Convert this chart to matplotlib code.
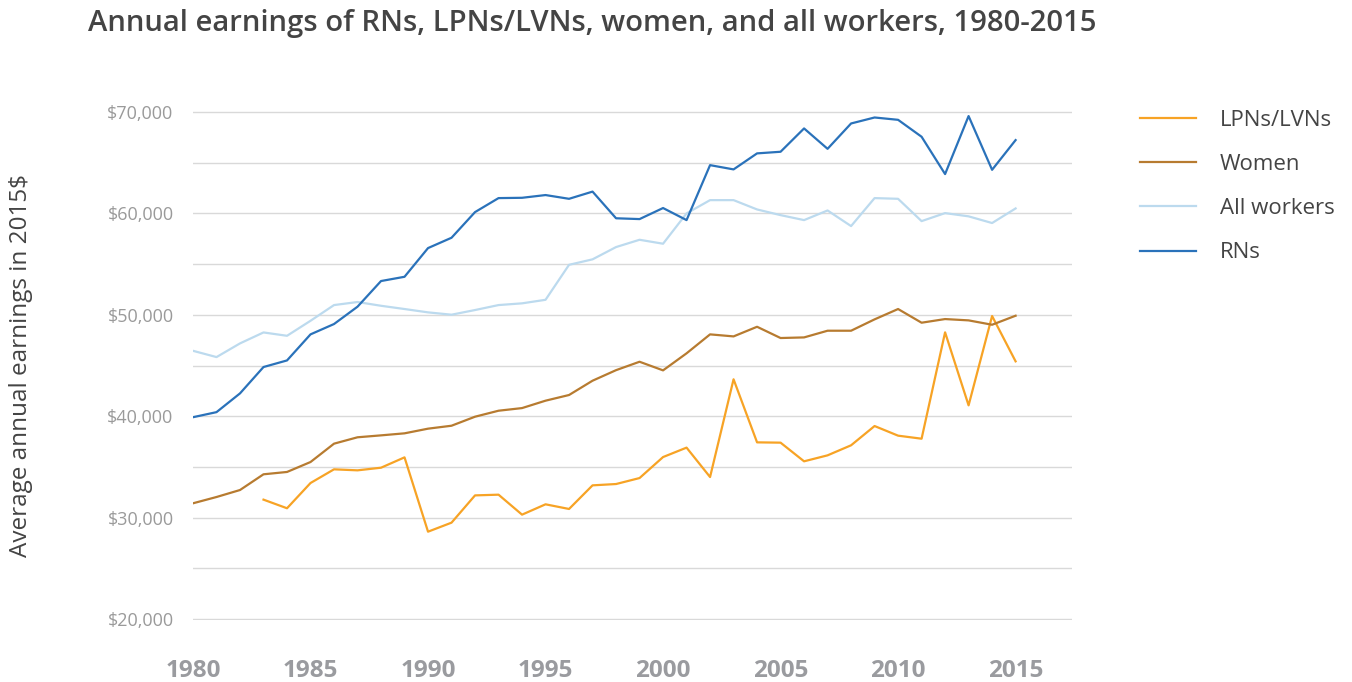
import matplotlib
matplotlib.use("Agg")
import matplotlib.pyplot as plt
from matplotlib.ticker import FuncFormatter, MultipleLocator

plt.rcParams['font.family'] = ['Open Sans', 'DejaVu Sans']

years = list(range(1980, 2016))
years_lpn = list(range(1983, 2016))

rns = [39900, 40400, 42250, 44850, 45500, 48070, 49090, 50800, 53330, 53750,
       56580, 57600, 60130, 61510, 61540, 61810, 61440, 62150, 59520, 59440,
       60530, 59340, 64760, 64340, 65920, 66080, 68380, 66370, 68870, 69460,
       69230, 67560, 63880, 69600, 64300, 67230]

all_workers = [46450, 45830, 47180, 48260, 47930, 49410, 50960, 51260, 50890, 50570,
               50240, 50010, 50470, 50960, 51130, 51480, 54930, 55470, 56680, 57400,
               57010, 60000, 61310, 61310, 60390, 59830, 59340, 60290, 58750, 61510,
               61440, 59240, 60030, 59710, 59050, 60490]

women = [31410, 32030, 32720, 34270, 34500, 35480, 37290, 37920, 38110, 38310,
         38770, 39060, 39950, 40540, 40800, 41530, 42090, 43500, 44540, 45370,
         44520, 46200, 48070, 47870, 48820, 47710, 47770, 48430, 48430, 49550,
         50570, 49220, 49580, 49450, 49020, 49910]

lpns = [31770, 30920, 33410, 34760, 34660, 34920, 35940, 28610, 29500, 32190,
        32260, 30290, 31310, 30850, 33180, 33310, 33900, 35970, 36900, 34000,
        43640, 37420, 37390, 35550, 36140, 37130, 39030, 38080, 37780, 48270,
        41070, 49880, 45410]

colors = {"lpn": "#F7A325", "women": "#B77B30", "all": "#BCDAEE", "rn": "#2A72BA"}

fig = plt.figure(figsize=(13.52, 6.82), dpi=100)
ax = fig.add_axes([193 / 1352, 62 / 682, (1072 - 193) / 1352, (620 - 111) / 682])

ax.plot(years_lpn, lpns, color=colors["lpn"], lw=1.6, label="LPNs/LVNs")
ax.plot(years, women, color=colors["women"], lw=1.6, label="Women")
ax.plot(years, all_workers, color=colors["all"], lw=1.6, label="All workers")
ax.plot(years, rns, color=colors["rn"], lw=1.6, label="RNs")

ax.set_xlim(1980, 2017.4)
ax.set_ylim(19900, 70100)
ax.xaxis.set_major_locator(MultipleLocator(5))
ax.yaxis.set_major_locator(MultipleLocator(10000))
ax.yaxis.set_minor_locator(MultipleLocator(5000))
ax.yaxis.set_major_formatter(FuncFormatter(lambda v, p: f"${v:,.0f}"))
ax.grid(axis="y", which="both", color="#d9d9d9", lw=1)
ax.set_axisbelow(True)
for s in ax.spines.values():
    s.set_visible(False)
ax.tick_params(axis="both", which="both", length=0)
ax.tick_params(axis="y", pad=14, labelsize=13, labelcolor="#9a9a9a")
ax.tick_params(axis="x", pad=28, labelsize=17.5, labelcolor="#9a9b9f")
for t in ax.get_xticklabels():
    t.set_fontweight("bold")

ax.set_ylabel("Average annual earnings in 2015$", fontsize=17.5, color="#444444")
ax.yaxis.set_label_coords(-160 / 879, 0.5)

fig.text(88 / 1352, 1 - 23 / 682, "Annual earnings of RNs, LPNs/LVNs, women, and all workers, 1980-2015",
         fontsize=21.1, fontweight="semibold", color="#444444", va="center", ha="left")

leg = fig.legend(loc="upper left", bbox_to_anchor=(1120 / 1352, 1 - 90 / 682), frameon=False,
                 fontsize=16, handlelength=2.5, handletextpad=1.1, labelspacing=1.04)
for t in leg.get_texts():
    t.set_color("#444444")

fig.savefig("out.png", dpi=100)
